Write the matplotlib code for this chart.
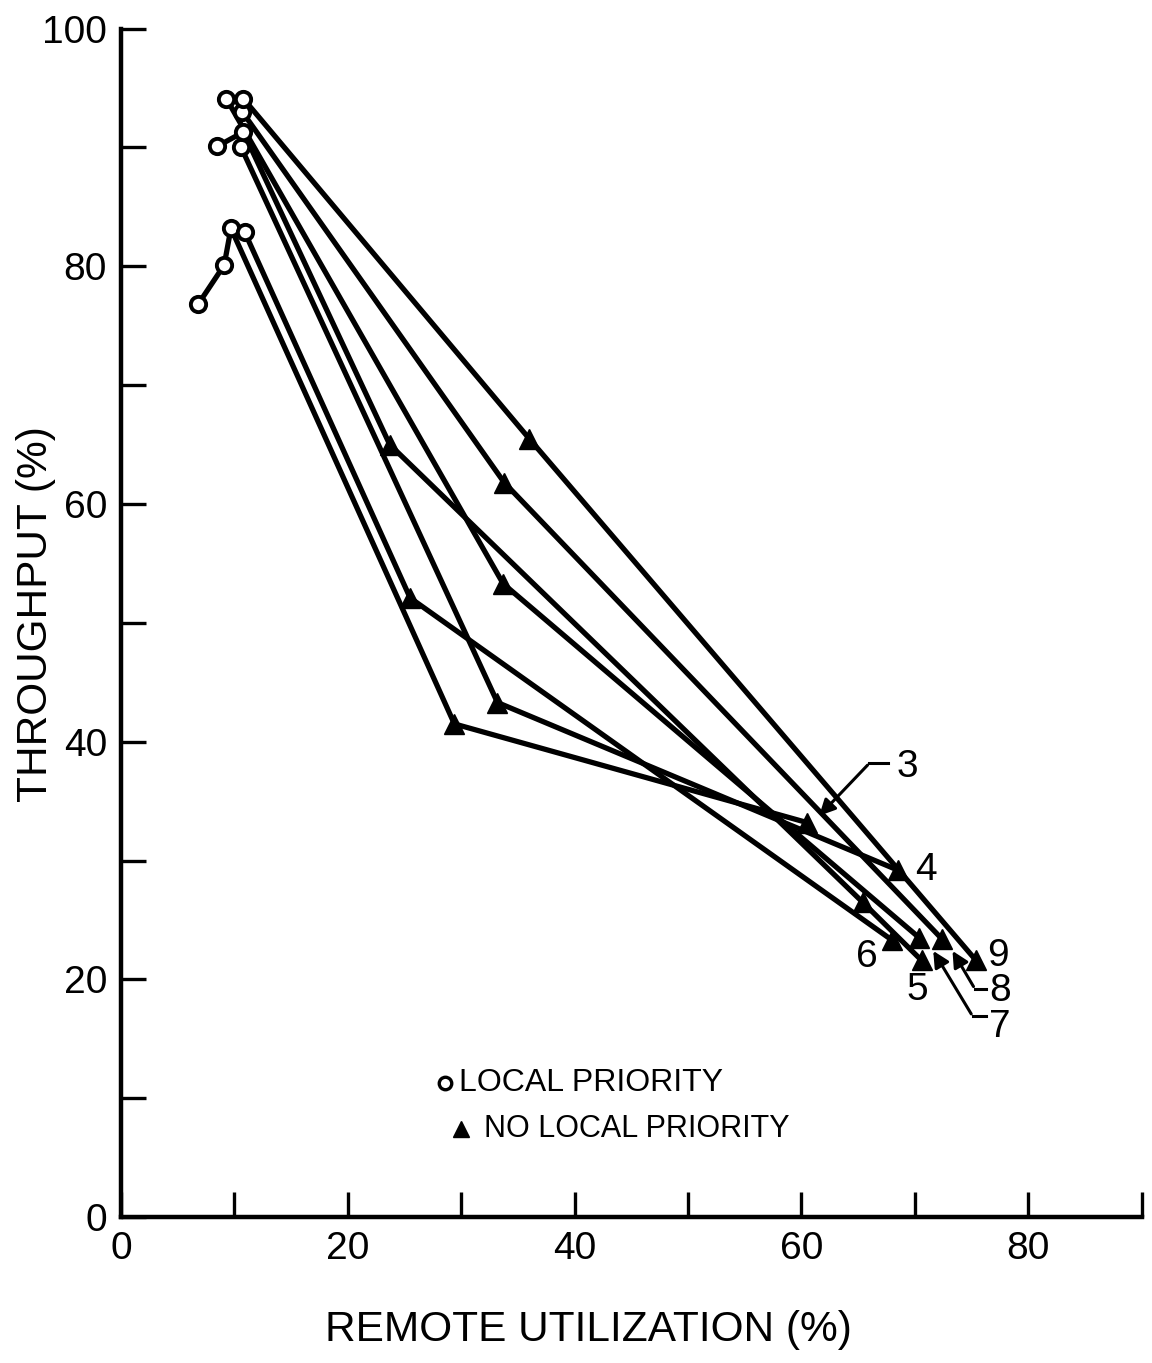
import matplotlib
matplotlib.use("Agg")
import matplotlib.pyplot as plt

# series labels and points
# each series: local-priority points (circles) then no-local-priority points (triangles)
labels = ['3', '4', '5', '6', '7', '8', '9']

local_x = {
    '3': [6.8, 9.1, 9.7],
    '4': [10.6],
    '5': [8.5, 10.8],
    '6': [10.9],
    '7': [9.3],
    '8': [10.7],
    '9': [10.8],
}
local_y = {
    '3': [76.8, 80.1, 83.2],
    '4': [90.0],
    '5': [90.1, 91.3],
    '6': [82.9],
    '7': [94.1],
    '8': [93.0],
    '9': [94.1],
}
nolocal_x = {
    '3': [29.4, 60.5],
    '4': [33.2, 68.5],
    '5': [23.7, 65.4, 70.6],
    '6': [25.5, 68.0],
    '7': [33.7, 70.4],
    '8': [33.8, 72.4],
    '9': [36.0, 75.4],
}
nolocal_y = {
    '3': [41.5, 33.2],
    '4': [43.3, 29.2],
    '5': [65.0, 26.5, 21.6],
    '6': [52.1, 23.3],
    '7': [53.3, 23.5],
    '8': [61.8, 23.4],
    '9': [65.5, 21.6],
}

plt.rcParams['font.family'] = ['Liberation Sans', 'DejaVu Sans']

fig = plt.figure(figsize=(11.52, 13.63), dpi=100)
ax = fig.add_axes([0.105, 0.107, 0.886, 0.872])

lw = 3.8
for s in labels:
    xs = local_x[s] + nolocal_x[s]
    ys = local_y[s] + nolocal_y[s]
    ax.plot(xs, ys, color='black', lw=lw, zorder=2, solid_capstyle='round')
    ax.plot(nolocal_x[s], nolocal_y[s], ls='none', marker='^', ms=14,
            color='black', zorder=3)
    ax.plot(local_x[s], local_y[s], ls='none', marker='o', ms=11,
            mfc='white', mec='black', mew=2.8, zorder=4)

# curve labels
lab_kw = dict(fontsize=28, color='black', ha='center', va='center')
ax.text(69.3, 37.9, '3', **lab_kw)
ax.text(71.0, 29.2, '4', **lab_kw)
ax.text(70.2, 19.1, '5', **lab_kw)
ax.text(65.8, 21.9, '6', **lab_kw)
ax.text(77.5, 16.0, '7', **lab_kw)
ax.text(77.5, 19.0, '8', **lab_kw)
ax.text(77.3, 22.0, '9', **lab_kw)

# leader arrows
arr = dict(arrowstyle='-|>', color='black', lw=2.2, mutation_scale=24)
ax.plot([66.0, 67.6], [38.2, 38.2], color='black', lw=2.2)
ax.annotate('', xy=(61.4, 33.6), xytext=(66.0, 38.2), arrowprops=arr)
ax.plot([75.3, 76.3], [19.2, 19.2], color='black', lw=2.2)
ax.annotate('', xy=(73.2, 22.6), xytext=(75.3, 19.2), arrowprops=arr)
ax.plot([75.1, 76.3], [16.9, 16.9], color='black', lw=2.2)
ax.annotate('', xy=(71.5, 22.6), xytext=(75.1, 16.9), arrowprops=arr)

# legend drawn in place
ax.plot([28.6], [11.3], ls='none', marker='o', ms=9, mfc='white', mec='black', mew=2.4)
ax.text(29.8, 11.3, 'LOCAL PRIORITY', fontsize=23, va='center', ha='left')
ax.plot([30.0], [7.4], ls='none', marker='^', ms=12, color='black')
ax.text(32.0, 7.4, 'NO LOCAL PRIORITY', fontsize=22, va='center', ha='left')

ax.set_xlim(0, 90)
ax.set_ylim(0, 100)
ax.spines['top'].set_visible(False)
ax.spines['right'].set_visible(False)
ax.spines['left'].set_linewidth(3.2)
ax.spines['bottom'].set_linewidth(3.2)
ax.set_xticks(range(0, 91, 10))
ax.set_xticklabels(['0', '', '20', '', '40', '', '60', '', '80', ''])
ax.set_yticks(range(0, 101, 10))
ax.set_yticklabels(['0', '', '20', '', '40', '', '60', '', '80', '', '100'])
ax.tick_params(direction='in', length=18, width=2.4, labelsize=28, pad=10)

fig.text(588 / 1152, 1 - 1330 / 1363, 'REMOTE UTILIZATION (%)', fontsize=30.5,
         ha='center', va='center')
fig.text(36 / 1152, 1 - 614 / 1363, 'THROUGHPUT (%)', fontsize=30.5,
         ha='center', va='center', rotation=90)

fig.savefig('out.png', dpi=100, facecolor='white')
